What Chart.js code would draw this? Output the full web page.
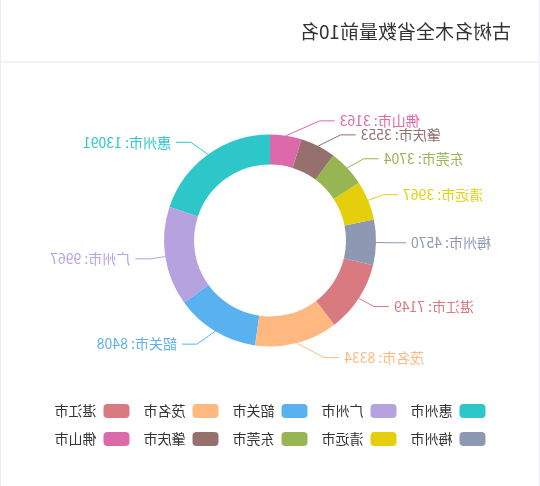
<!DOCTYPE html>
<html>
<head>
<meta charset="utf-8">
<script src="https://cdn.jsdelivr.net/npm/chart.js@4.4.1/dist/chart.umd.min.js"></script>
<style>
  html, body { margin: 0; padding: 0; background: #fff; }
  .card {
    width: 540px;
    height: 486px;
    box-sizing: border-box;
    border-left: 1px solid #ebeef5;
    border-right: 1px solid #ebeef5;
    background: #fff;
    font-family: "Noto Sans CJK SC", "Noto Sans", sans-serif;
    /* the reference picture is a mirror image */
    transform: scaleX(-1);
    overflow: hidden;
  }
  .card-header {
    height: 63px;
    box-sizing: border-box;
    border-bottom: 2px solid #f0f2f5;
    padding-left: 28px;
    line-height: 61px;
    font-size: 19px;
    color: #333;
  }
  canvas { display: block; }
</style>
</head>
<body>
<div class="card">
  <div class="card-header">古树名木全省数量前10名</div>
  <canvas id="chart" width="538" height="423"></canvas>
</div>
<script>
const cities = ['惠州市', '广州市', '韶关市', '茂名市', '湛江市', '梅州市', '清远市', '东莞市', '肇庆市', '佛山市']
const treeCounts = [13091, 9967, 8408, 8334, 7149, 4570, 3967, 3704, 3553, 3163]
const sliceColors = ['#2ec7c9', '#b6a2de', '#5ab1ef', '#ffb980', '#d87a80', '#8d98b3', '#e5cf0d', '#97b552', '#95706d', '#dc69aa']

const FONT = '"Noto Sans CJK SC", "Noto Sans", sans-serif'

// outside labels with two-segment leader lines, laid out like echarts pie labels
const pieLabels = {
    id: 'pieLabels',
    afterDatasetsDraw(chart) {
        const ctx = chart.ctx
        const meta = chart.getDatasetMeta(0)
        const len1 = 15
        const len2 = 15
        const labelHeight = 14

        const items = meta.data.map((arc, i) => {
            const { x: cx, y: cy, startAngle, endAngle, outerRadius: r } = arc
            const mid = (startAngle + endAngle) / 2
            const dx = Math.cos(mid)
            const dy = Math.sin(mid)
            const x0 = cx + r * dx
            const y0 = cy + r * dy
            const x1 = x0 + len1 * dx
            const y1 = y0 + len1 * dy
            const dir = dx < 0 ? -1 : 1
            return { i, cx, cy, r, dir, x0, y0, x: x1 + dir * len2, y: y1, height: labelHeight }
        })

        const adjustSide = (list, dir) => {
            if (!list.length) return
            const { cx, cy, r } = list[0]
            list.sort((a, b) => a.y - b.y)
            const shiftUp = (end, delta) => {
                for (let j = end; j >= 0; j--) {
                    if (list[j].y - delta < 0) break
                    list[j].y -= delta
                    if (j > 0 && list[j].y > list[j - 1].y + list[j - 1].height) break
                }
            }
            const shiftDown = (start, end, delta) => {
                for (let j = start; j < end; j++) {
                    if (list[j].y + delta > chart.height) break
                    list[j].y += delta
                    if (j > start && j + 1 < end && list[j + 1].y > list[j].y + list[j].height) {
                        shiftUp(j, delta / 2)
                        return
                    }
                }
                shiftUp(end - 1, delta / 2)
            }
            let lastY = 0
            for (let i = 0; i < list.length; i++) {
                const delta = list[i].y - lastY
                if (delta < 0) shiftDown(i, list.length, -delta)
                lastY = list[i].y + list[i].height
            }
            const changeX = (part, isDown) => {
                let lastDeltaX = isDown ? Number.MAX_VALUE : 0
                part.forEach(item => {
                    const deltaY = Math.abs(item.y - cy)
                    let deltaX = deltaY < r + len1
                        ? Math.sqrt((r + len1 + len2) ** 2 - deltaY * deltaY)
                        : Math.abs(item.x - cx)
                    if (isDown && deltaX >= lastDeltaX) deltaX = lastDeltaX - 10
                    if (!isDown && deltaX <= lastDeltaX) deltaX = lastDeltaX + 10
                    item.x = cx + deltaX * dir
                    lastDeltaX = deltaX
                })
            }
            changeX(list.filter(it => it.y < cy), false)
            changeX(list.filter(it => it.y >= cy), true)
        }

        adjustSide(items.filter(it => it.dir < 0), -1)
        adjustSide(items.filter(it => it.dir > 0), 1)

        ctx.save()
        ctx.font = '14px ' + FONT
        ctx.textBaseline = 'middle'
        ctx.lineWidth = 1
        items.forEach(it => {
            const color = sliceColors[it.i]
            const x2 = it.x
            const x1 = x2 - it.dir * len2
            ctx.strokeStyle = color
            ctx.beginPath()
            ctx.moveTo(it.x0, it.y0)
            ctx.lineTo(x1, it.y)
            ctx.lineTo(x2, it.y)
            ctx.stroke()
            ctx.fillStyle = color
            ctx.textAlign = it.dir > 0 ? 'left' : 'right'
            ctx.fillText(cities[it.i] + ': ' + treeCounts[it.i], x2 + it.dir * 5, it.y)
        })
        ctx.restore()
    }
}

new Chart(document.getElementById('chart'), {
    type: 'doughnut',
    data: {
        labels: cities,
        datasets: [{
            data: treeCounts,
            backgroundColor: sliceColors,
            borderWidth: 0,
        }]
    },
    options: {
        responsive: false,
        animation: false,
        events: [],
        radius: 106,
        cutout: '71.7%',
        layout: { padding: { top: 28, bottom: 30 } },
        plugins: {
            tooltip: { enabled: false },
            legend: {
                position: 'bottom',
                labels: {
                    boxWidth: 26,
                    boxHeight: 14,
                    padding: 14,
                    useBorderRadius: true,
                    borderRadius: 4,
                    color: '#333',
                    font: { size: 14, family: FONT },
                }
            }
        }
    },
    plugins: [pieLabels]
})
</script>
</body>
</html>
